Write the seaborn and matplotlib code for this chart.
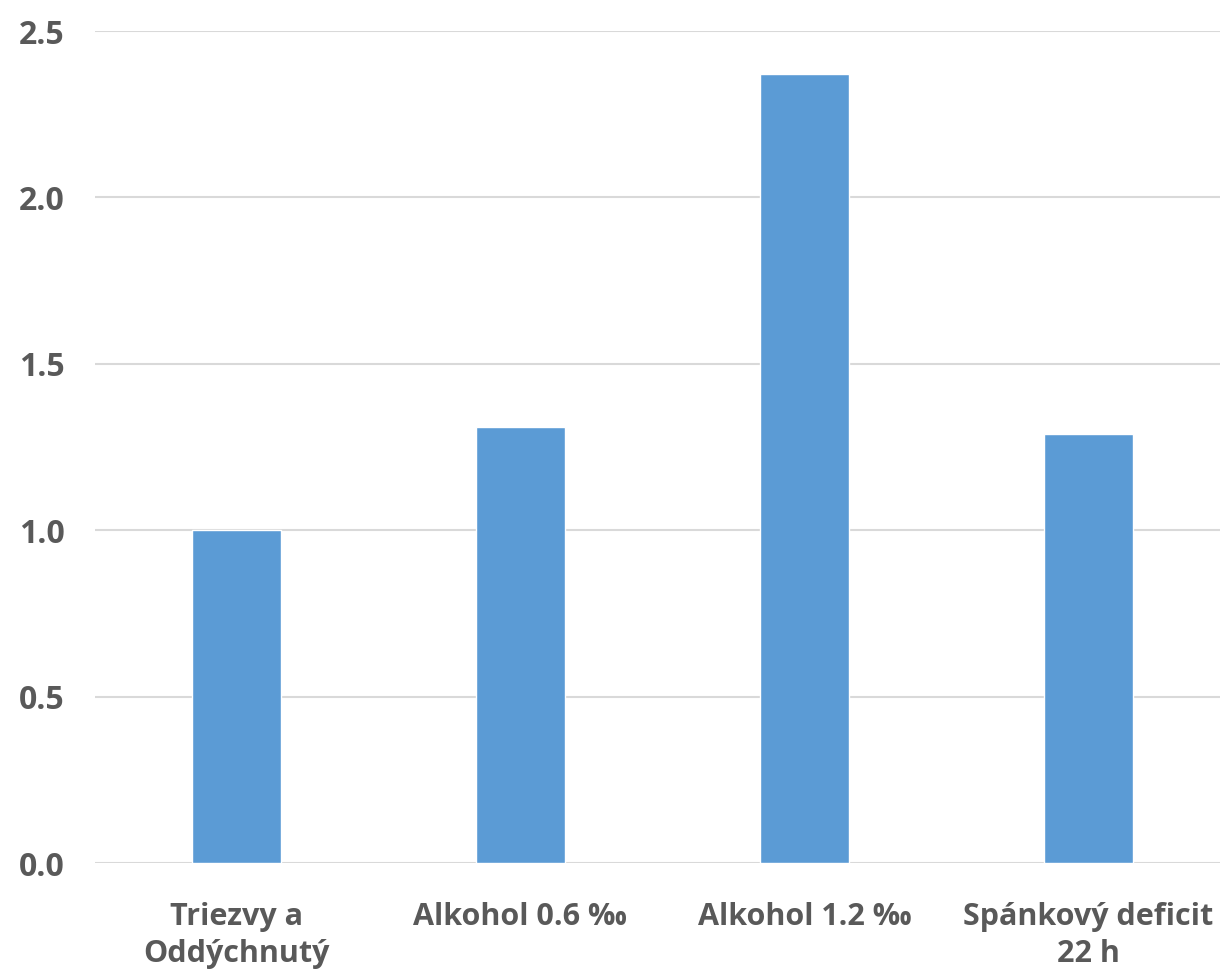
import matplotlib
matplotlib.use("Agg")
import matplotlib.pyplot as plt
import seaborn as sns
import pandas as pd

categories = ["Triezvy a\nOddýchnutý", "Alkohol 0.6 ‰", "Alkohol 1.2 ‰", "Spánkový deficit\n22 h"]
values = [1.00, 1.31, 2.37, 1.29]
yticks = [0.0, 0.5, 1.0, 1.5, 2.0, 2.5]

sns.set_theme(style="white")
plt.rcParams["font.family"] = ["Open Sans", "DejaVu Sans"]

df = pd.DataFrame({"category": categories, "value": values})

fig = plt.figure(figsize=(12.2, 9.72), dpi=100)
ax = fig.add_axes([0.0779, 0.1121, 0.9221, 0.8560])

sns.barplot(data=df, x="category", y="value", color="#5B9BD5", width=0.313,
            saturation=1, ax=ax, zorder=3)

ax.set_ylim(0, 2.5)
ax.set_xlim(-0.498, 3.463)
ax.set_yticks(yticks)
ax.set_yticklabels([f"{t:.1f}" for t in yticks])
ax.yaxis.grid(True, color="#D9D9D9", linewidth=1.5, zorder=0)
ax.xaxis.grid(False)
for s in ax.spines.values():
    s.set_visible(False)
ax.set_xlabel("")
ax.set_ylabel("")
ax.tick_params(axis="y", length=0, pad=22, labelsize=23, labelcolor="#595959")
ax.tick_params(axis="x", length=0, pad=28, labelsize=22, labelcolor="#595959")
for lab in ax.get_xticklabels() + ax.get_yticklabels():
    lab.set_fontweight("bold")
for lab in ax.get_xticklabels():
    lab.set_linespacing(1.3)
    lab.set_verticalalignment("top")

fig.savefig("out.png", dpi=100)
